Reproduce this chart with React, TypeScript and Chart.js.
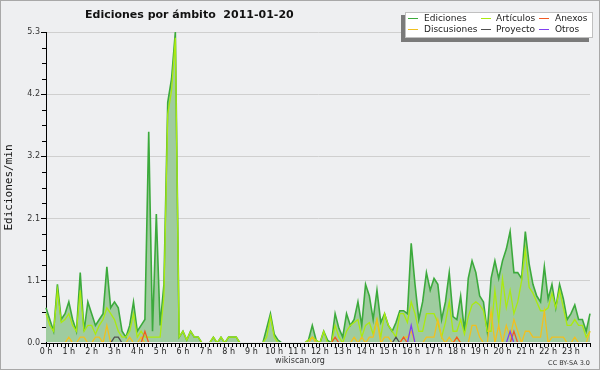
import React, { useEffect, useRef } from 'react';
import { Chart, registerables } from 'chart.js';

Chart.register(...registerables);

const TITLE = 'Ediciones por ámbito  2011-01-20';
const Y_TITLE = 'Ediciones/min';
const FOOT_LEFT = 'wikiscan.org';
const FOOT_RIGHT = 'CC BY-SA 3.0';

const HOUR_LABELS = ['0 h','1 h','2 h','3 h','4 h','5 h','6 h','7 h','8 h','9 h','10 h','11 h','12 h','13 h','14 h','15 h','16 h','17 h','18 h','19 h','20 h','21 h','22 h','23 h'];
const Y_TICKS = [0, 1.06, 2.12, 3.18, 4.24, 5.3];

// 10-minute steps, edits per minute
const ediciones = [
  0.6, 0.4, 0.2, 1.0, 0.4, 0.5,
  0.7, 0.4, 0.2, 1.2, 0.2, 0.7,
  0.5, 0.3, 0.4, 0.5, 1.3, 0.6,
  0.7, 0.6, 0.2, 0.1, 0.3, 0.7,
  0.2, 0.3, 0.4, 3.6, 0.2, 2.2,
  0.3, 1.0, 4.1, 4.5, 5.3, 0.1,
  0.2, 0.05, 0.2, 0.1, 0.1, 0,
  0, 0, 0.1, 0, 0.1, 0,
  0.1, 0.1, 0.1, 0, 0, 0,
  0, 0, 0, 0, 0.25, 0.5,
  0.15, 0.05, 0, 0, 0, 0,
  0, 0, 0, 0.05, 0.3, 0.05,
  0, 0.2, 0.05, 0, 0.5, 0.25,
  0.1, 0.5, 0.3, 0.4, 0.7, 0.3,
  1.0, 0.8, 0.4, 0.9, 0.35, 0.5,
  0.3, 0.2, 0.35, 0.55, 0.55, 0.5,
  1.7, 1.0, 0.4, 0.7, 1.2, 0.9,
  1.1, 1.0, 0.4, 0.7, 1.2, 0.45,
  0.4, 0.8, 0.2, 1.1, 1.4, 1.2,
  0.8, 0.7, 0.2, 1.1, 1.4, 1.1,
  1.4, 1.6, 1.9, 1.2, 1.2, 1.1,
  1.9, 1.35, 1.0, 0.8, 0.7, 1.3,
  0.75, 1.0, 0.6, 1.0, 0.75, 0.4,
  0.5, 0.65, 0.4, 0.4, 0.2, 0.5,
];

const articulos = [
  0.5, 0.3, 0.2, 0.9, 0.35, 0.4,
  0.5, 0.3, 0.2, 0.9, 0.2, 0.3,
  0.3, 0.15, 0.3, 0.4, 0.6, 0.5,
  0.4, 0.2, 0.1, 0.1, 0.2, 0.5,
  0.1, 0.2, 0.1, 0.1, 0.1, 0.1,
  0.1, 0.8, 3.9, 4.3, 5.2, 0.1,
  0.2, 0.05, 0.2, 0.1, 0.1, 0,
  0, 0, 0.1, 0, 0.1, 0,
  0.1, 0.1, 0.1, 0, 0, 0,
  0, 0, 0, 0, 0.1, 0.45,
  0.1, 0, 0, 0, 0, 0,
  0, 0, 0, 0.05, 0.1, 0.05,
  0, 0.2, 0, 0, 0.3, 0.1,
  0, 0.2, 0.3, 0.35, 0.4, 0.1,
  0.3, 0.35, 0.15, 0.4, 0.1, 0.5,
  0.3, 0.2, 0.1, 0.5, 0.5, 0.35,
  0.7, 0.5, 0.2, 0.2, 0.5, 0.5,
  0.5, 0.35, 0.1, 0.35, 0.7, 0.2,
  0.2, 0.4, 0.15, 0.45, 0.65, 0.7,
  0.65, 0.55, 0.2, 0.2, 0.9, 0.35,
  1.1, 0.6, 0.9, 0.5, 0.7, 1.05,
  1.6, 0.95, 0.85, 0.7, 0.55, 0.55,
  0.6, 0.85, 0.6, 0.9, 0.6, 0.3,
  0.3, 0.4, 0.3, 0.3, 0.1, 0.2,
];

const discusiones = [
  0, 0, 0, 0, 0, 0,
  0.1, 0, 0, 0.1, 0.1, 0,
  0, 0.1, 0.1, 0, 0.3, 0,
  0, 0, 0, 0, 0.1, 0,
  0, 0.1, 0, 0, 0, 0,
  0, 0, 0, 0, 0, 0,
  0, 0, 0, 0, 0, 0,
  0, 0, 0, 0, 0, 0,
  0, 0, 0, 0, 0, 0,
  0, 0, 0, 0, 0, 0,
  0, 0, 0, 0, 0, 0,
  0, 0, 0, 0, 0.1, 0,
  0, 0, 0, 0, 0, 0,
  0, 0, 0, 0.1, 0, 0.1,
  0, 0.1, 0.1, 0.4, 0, 0.1,
  0.1, 0, 0, 0, 0.1, 0.1,
  0.2, 0, 0, 0, 0.1, 0.1,
  0.1, 0.4, 0.1, 0, 0.1, 0,
  0.1, 0, 0, 0, 0.3, 0.3,
  0.1, 0, 0, 0.55, 0, 0.3,
  0, 0.3, 0.1, 0.4, 0.2, 0,
  0.2, 0.2, 0.1, 0.1, 0.1, 0.55,
  0, 0.1, 0.1, 0.1, 0.1, 0,
  0, 0.1, 0, 0, 0, 0.2,
];

const anexos = [
  0, 0, 0, 0, 0, 0,
  0, 0, 0, 0, 0, 0,
  0, 0, 0, 0, 0, 0,
  0, 0, 0, 0, 0, 0,
  0, 0, 0.2, 0, 0, 0,
  0, 0, 0, 0, 0, 0,
  0, 0, 0, 0, 0, 0,
  0, 0, 0, 0, 0, 0,
  0, 0, 0, 0, 0, 0,
  0, 0, 0, 0, 0, 0,
  0, 0, 0, 0, 0, 0,
  0, 0, 0, 0, 0, 0,
  0, 0, 0, 0, 0.1, 0,
  0, 0, 0, 0, 0, 0,
  0, 0, 0, 0, 0, 0,
  0, 0, 0, 0, 0.1, 0,
  0, 0, 0, 0, 0, 0,
  0, 0, 0, 0, 0, 0,
  0.1, 0, 0, 0, 0, 0,
  0, 0, 0, 0, 0, 0,
  0, 0, 0, 0.2, 0, 0,
  0, 0, 0, 0, 0, 0,
  0, 0, 0, 0, 0, 0,
  0, 0, 0, 0, 0, 0,
];

const proyecto = [
  0, 0, 0, 0, 0, 0,
  0, 0, 0, 0, 0, 0,
  0, 0, 0, 0, 0, 0,
  0.1, 0.1, 0, 0, 0, 0,
  0, 0, 0, 0, 0, 0,
  0, 0, 0, 0, 0, 0,
  0, 0, 0, 0, 0, 0,
  0, 0, 0, 0, 0, 0,
  0, 0, 0, 0, 0, 0,
  0, 0, 0, 0, 0, 0,
  0, 0, 0, 0, 0, 0,
  0, 0, 0, 0, 0, 0,
  0, 0, 0, 0, 0, 0,
  0, 0, 0, 0, 0, 0,
  0, 0, 0, 0, 0, 0,
  0, 0, 0.1, 0, 0, 0,
  0, 0, 0, 0, 0, 0,
  0, 0, 0, 0, 0, 0,
  0, 0, 0, 0, 0, 0,
  0, 0, 0, 0, 0, 0,
  0, 0, 0, 0, 0, 0,
  0, 0, 0, 0, 0, 0,
  0, 0, 0, 0, 0, 0,
  0, 0, 0, 0, 0, 0,
];

const otros = [
  0, 0, 0, 0, 0, 0,
  0, 0, 0, 0, 0, 0,
  0, 0, 0, 0, 0, 0,
  0, 0, 0, 0, 0, 0,
  0, 0, 0, 0, 0, 0,
  0, 0, 0, 0, 0, 0,
  0, 0, 0, 0, 0, 0,
  0, 0, 0, 0, 0, 0,
  0, 0, 0, 0, 0, 0,
  0, 0, 0, 0, 0, 0,
  0, 0, 0, 0, 0, 0,
  0, 0, 0, 0, 0, 0,
  0, 0, 0, 0, 0, 0,
  0, 0, 0, 0, 0, 0,
  0, 0, 0, 0, 0, 0,
  0, 0, 0, 0, 0, 0,
  0.3, 0, 0, 0, 0, 0,
  0, 0, 0, 0, 0, 0,
  0, 0, 0, 0, 0, 0,
  0, 0, 0, 0, 0, 0,
  0, 0, 0.2, 0, 0, 0,
  0, 0, 0, 0, 0, 0,
  0, 0, 0, 0, 0, 0,
  0, 0, 0, 0, 0, 0,
];

const COLORS = {
  ediciones: '#3caa3c',
  edFill: '#9fcc9f',
  articulos: '#aaea10',
  discusiones: '#f0c020',
  anexos: '#f05a24',
  proyecto: '#505050',
  otros: '#8040f0',
};

const FONT = '"DejaVu Sans", sans-serif';

const decor = {
  id: 'decor',
  beforeDraw(chart: any) {
    const { ctx, width, height } = chart;
    ctx.save();
    ctx.fillStyle = '#eeeff1';
    ctx.fillRect(0, 0, width, height);
    ctx.restore();
  },
  afterDraw(chart: any) {
    const { ctx, width, height, chartArea } = chart;
    const ys = chart.scales.y;
    ctx.save();
    // minor y ticks
    ctx.strokeStyle = '#000';
    ctx.lineWidth = 1;
    const top = Y_TICKS[Y_TICKS.length - 1];
    for (let k = 1; k < 20; k++) {
      if (k % 4 === 0) continue;
      const py = Math.round(ys.getPixelForValue((k * top) / 20)) + 0.5;
      ctx.beginPath();
      ctx.moveTo(chartArea.left - 4, py);
      ctx.lineTo(chartArea.left, py);
      ctx.stroke();
    }
    // frame
    ctx.strokeStyle = '#a8a8a8';
    ctx.strokeRect(0.5, 0.5, width - 1, height - 1);
    // title
    ctx.fillStyle = '#111';
    ctx.font = 'bold 11px ' + FONT;
    ctx.textAlign = 'left';
    ctx.textBaseline = 'alphabetic';
    ctx.fillText(TITLE, 85, 18);
    // legend box
    ctx.fillStyle = '#7a7a7a';
    ctx.fillRect(401, 15, 188, 27);
    ctx.fillStyle = '#ffffff';
    ctx.fillRect(405, 12, 188, 26);
    ctx.strokeStyle = '#c0c0c0';
    ctx.strokeRect(405.5, 12.5, 187, 25);
    const ds = chart.data.datasets;
    const byLabel: any = {};
    ds.forEach((d: any) => (byLabel[d.label] = d));
    const cols = [
      { lx: 408, tx: 424, items: ['Ediciones', 'Discusiones'] },
      { lx: 481, tx: 496, items: ['Artículos', 'Proyecto'] },
      { lx: 539, tx: 555, items: ['Anexos', 'Otros'] },
    ];
    const rows = [18.5, 29.5];
    ctx.font = '9px ' + FONT;
    ctx.textBaseline = 'middle';
    cols.forEach((c) => {
      c.items.forEach((name, r) => {
        const d = byLabel[name];
        ctx.strokeStyle = d.borderColor;
        ctx.lineWidth = 1;
        ctx.beginPath();
        ctx.moveTo(c.lx, rows[r]);
        ctx.lineTo(c.lx + 10, rows[r]);
        ctx.stroke();
        ctx.fillStyle = '#222';
        ctx.fillText(name, c.tx, rows[r] + 0.5);
      });
    });
    // footer
    ctx.textBaseline = 'alphabetic';
    ctx.fillStyle = '#333';
    ctx.font = '8px ' + FONT;
    ctx.textAlign = 'center';
    ctx.fillText(FOOT_LEFT, 300, 363);
    ctx.font = '6.5px ' + FONT;
    ctx.textAlign = 'right';
    ctx.fillText(FOOT_RIGHT, 590, 365);
    ctx.restore();
  },
};

export default function App() {
  const ref = useRef<HTMLCanvasElement>(null);
  useEffect(() => {
    const canvas = ref.current!;
    const pts = (arr: number[]) => arr.map((y, i) => ({ x: i, y }));
    const steps = ediciones.map((_, i) => i);
    const line = (label: string, data: number[], color: string, order: number, extra: any = {}) => ({
      label,
      data: pts(data),
      borderColor: color,
      backgroundColor: color,
      borderWidth: 1.3,
      pointRadius: 0,
      tension: 0,
      fill: false,
      order,
      clip: { left: 2, top: 2, right: 2, bottom: -1 },
      ...extra,
    });
    const chart = new Chart(canvas, {
      type: 'line',
      data: {
        datasets: [
          line('Ediciones', ediciones, COLORS.ediciones, 6, { fill: 'origin', backgroundColor: COLORS.edFill, borderWidth: 1.6 }),
          line('Artículos', articulos, COLORS.articulos, 5),
          line('Discusiones', discusiones, COLORS.discusiones, 4),
          line('Anexos', anexos, COLORS.anexos, 3),
          line('Proyecto', proyecto, COLORS.proyecto, 2),
          line('Otros', otros, COLORS.otros, 1),
        ] as any,
      },
      options: {
        animation: false,
        responsive: false,
        maintainAspectRatio: false,
        layout: { padding: { left: 0, top: 32, right: 10, bottom: 0 } },
        plugins: {
          legend: { display: false },
          title: { display: false },
          tooltip: { enabled: false },
        },
        scales: {
          x: {
            type: 'linear',
            min: 0,
            max: steps[steps.length - 1],
            z: 1,
            afterBuildTicks: (s: any) => {
              s.ticks = steps.map((v) => ({ value: v }));
            },
            afterFit: (s: any) => {
              s.height = 27;
            },
            grid: { drawOnChartArea: false, drawTicks: true, tickLength: 4, color: '#000', tickColor: '#000' },
            border: { color: '#000', width: 1 },
            ticks: {
              autoSkip: false,
              maxRotation: 0,
              minRotation: 0,
              padding: 0,
              color: '#222',
              font: { family: FONT, size: 8 },
              callback: (v: any) => (v % 6 === 0 ? HOUR_LABELS[v / 6] : ''),
            },
          },
          y: {
            type: 'linear',
            min: 0,
            max: Y_TICKS[Y_TICKS.length - 1],
            afterBuildTicks: (s: any) => {
              s.ticks = Y_TICKS.map((v) => ({ value: v }));
            },
            afterFit: (s: any) => {
              s.width = 46;
            },
            grid: { color: '#cfcfcf', tickColor: '#000', tickLength: 5, lineWidth: 1 },
            border: { color: '#000', width: 1 },
            ticks: {
              padding: 1,
              color: '#333',
              font: { family: FONT, size: 8 },
              callback: (v: any) => Number(v).toFixed(1),
            },
            title: {
              display: true,
              text: Y_TITLE,
              color: '#111',
              font: { family: '"DejaVu Sans Mono", monospace', size: 11 },
              padding: { top: 3, bottom: 0 },
            },
          },
        },
      } as any,
      plugins: [decor],
    });
    return () => chart.destroy();
  }, []);
  return (
    <div style={{ position: 'absolute', left: 0, top: 0, width: 600, height: 370 }}>
      <canvas ref={ref} width={600} height={370} style={{ display: 'block', width: 600, height: 370 }} />
    </div>
  );
}
